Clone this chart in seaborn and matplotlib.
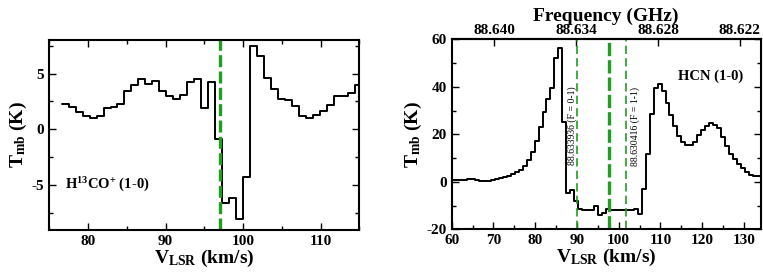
import numpy as np
import pandas as pd
import matplotlib
matplotlib.use("Agg")
import matplotlib.pyplot as plt
import seaborn as sns
from matplotlib.ticker import MultipleLocator, FixedLocator, FormatStrFormatter

# ---------------- data ----------------
# H13CO+ (1-0): channel left edges (km/s, last = right edge of last channel) and Tmb (K)
h13_edges = [76.6, 77.5, 78.4, 79.3, 80.2, 81.1, 82.0, 82.9, 83.8, 84.7,
             85.6, 86.5, 87.4, 88.3, 89.2, 90.1, 91.0, 91.9, 92.8, 93.7,
             94.6, 95.5, 96.4, 97.3, 98.2, 99.1, 100.0, 100.9, 101.8, 102.7,
             103.6, 104.5, 105.4, 106.3, 107.2, 108.1, 109.0, 109.9, 110.8, 111.7,
             112.6, 113.5, 114.4, 115.3]
h13_tmb = [2.3, 2.0, 1.6, 1.2, 1.05, 1.2, 1.9, 2.0, 2.3, 3.4,
           4.0, 4.5, 4.1, 4.3, 3.4, 3.0, 2.7, 3.1, 4.2, 4.5,
           1.9, 4.2, -0.9, -6.6, -6.1, -8.0, -4.3, 7.5, 6.6, 4.6,
           3.65, 2.7, 2.6, 2.06, 1.2, 1.05, 1.3, 1.65, 2.15, 2.95,
           3.0, 3.27, 4.0]

# HCN (1-0): channel left edges (km/s, last = right edge of last channel) and Tmb (K)
hcn_edges = [59.9, 60.85, 61.8, 62.75, 63.7, 64.65, 65.6, 66.55, 67.5, 68.45,
             69.4, 70.35, 71.3, 72.25, 73.2, 74.15, 75.1, 76.05, 77.0, 77.95,
             78.9, 79.85, 80.8, 81.75, 82.7, 83.65, 84.6, 85.55, 86.5, 87.45,
             88.4, 89.35, 90.3, 91.25, 92.2, 93.15, 94.1, 95.05, 96.0, 96.95,
             97.9, 98.85, 99.8, 100.75, 101.7, 102.65, 103.6, 104.55, 105.5, 106.45,
             107.4, 108.35, 109.3, 110.25, 111.2, 112.15, 113.1, 114.05, 115.0, 115.95,
             116.9, 117.85, 118.8, 119.75, 120.7, 121.65, 122.6, 123.55, 124.5, 125.45,
             126.4, 127.35, 128.3, 129.25, 130.2, 131.15, 132.1, 133.05, 134.0]
hcn_tmb = [0.8, 0.6, 0.6, 0.7, 1.0, 1.1, 0.8, 0.5, 0.4, 0.4,
           0.7, 1.2, 1.6, 1.9, 2.5, 3.4, 4.0, 5.0, 6.6, 9.0,
           12.7, 17.0, 23.0, 29.5, 35.0, 39.4, 52.0, 56.2, 25.0, -4.6,
           -3.4, -8.0, -11.6, -12.0, -11.9, -11.7, -10.2, -14.0, -13.0, -11.6,
           -12.0, -12.0, -11.9, -12.0, -11.9, -11.8, -11.6, -13.7, -3.2, 11.7,
           28.5, 39.5, 41.1, 38.2, 33.2, 28.1, 23.6, 19.5, 16.7, 15.3,
           15.3, 16.9, 19.8, 21.9, 23.3, 24.9, 23.9, 22.5, 19.0, 15.2,
           11.6, 9.5, 7.6, 5.7, 4.0, 3.0, 2.6, 2.5]

h13_vsys = 97.0
hcn_lines = [90.0, 101.8]
hcn_line_labels = ["88.633936 (F = 0-1)", "88.630416 (F = 1-1)"]
hcn_vsys = 97.6
freq_ticks = [88.640, 88.634, 88.628, 88.622]
F_REF, V_REF, KMS_PER_GHZ = 88.634, 89.8, 19.6 / 0.006

# ---------------- style ----------------
sns.set_style("ticks")
plt.rcParams["font.family"] = ["Liberation Serif", "DejaVu Serif"]
plt.rcParams["font.weight"] = "bold"
plt.rcParams["axes.labelweight"] = "bold"
plt.rcParams["axes.unicode_minus"] = False
for key in ("text.color", "axes.labelcolor", "xtick.color", "ytick.color", "axes.edgecolor"):
    plt.rcParams[key] = "black"
plt.rcParams["mathtext.fontset"] = "custom"
plt.rcParams["mathtext.rm"] = "Liberation Serif:bold"
plt.rcParams["mathtext.bf"] = "Liberation Serif:bold"
plt.rcParams["mathtext.it"] = "Liberation Serif:bold"

fig = plt.figure(figsize=(7.63, 2.73), dpi=100)
ax1 = fig.add_axes([0.0646, 0.1575, 0.4063, 0.696])
ax2 = fig.add_axes([0.592, 0.160, 0.405, 0.696])

green = "#1f9e1f"


def step_df(edges, vals):
    return pd.DataFrame({"v": edges, "t": list(vals) + [vals[-1]]})


sns.lineplot(data=step_df(h13_edges, h13_tmb), x="v", y="t", ax=ax1,
             drawstyle="steps-post", color="black", lw=1.4,
             estimator=None, sort=False)
sns.lineplot(data=step_df(hcn_edges, hcn_tmb), x="v", y="t", ax=ax2,
             drawstyle="steps-post", color="black", lw=1.4,
             estimator=None, sort=False)

ax1.axvline(h13_vsys, color=green, lw=2.4, dashes=(3.6, 1.3))
for v in hcn_lines:
    ax2.axvline(v, color=green, lw=1.2, dashes=(5, 2.5))
ax2.axvline(hcn_vsys, color=green, lw=2.4, dashes=(4, 1.2))

ax2.text(88.8, 23.5, hcn_line_labels[0], rotation=90, ha="center", va="center",
         fontsize=7, fontweight="normal")
ax2.text(104.0, 23.5, hcn_line_labels[1], rotation=90, ha="center", va="center",
         fontsize=7, fontweight="normal")

ax1.text(77.0, -5.0, r"H$^{13}$CO$^{+}$ (1-0)", fontsize=10.5, va="center", ha="left")
ax2.text(114.2, 44.5, "HCN (1-0)", fontsize=10.5, va="center", ha="left")

ax1.set_xlim(75, 115)
ax1.set_ylim(-9, 8)
ax2.set_xlim(60, 134)
ax2.set_ylim(-20, 60)

ax1.xaxis.set_major_locator(MultipleLocator(10))
ax1.xaxis.set_minor_locator(MultipleLocator(5))
ax1.yaxis.set_major_locator(MultipleLocator(5))
ax1.yaxis.set_minor_locator(MultipleLocator(2.5))
ax2.xaxis.set_major_locator(MultipleLocator(10))
ax2.xaxis.set_minor_locator(MultipleLocator(5))
ax2.yaxis.set_major_locator(MultipleLocator(20))
ax2.yaxis.set_minor_locator(MultipleLocator(10))

for ax in (ax1, ax2):
    for s in ax.spines.values():
        s.set_linewidth(1.5)
        s.set_visible(True)
    ax.tick_params(which="both", direction="in", width=1.0, labelsize=11,
                   right=True, top=(ax is ax1))
    ax.tick_params(which="major", length=5)
    ax.tick_params(which="minor", length=3)
    for lab in ax.get_xticklabels() + ax.get_yticklabels():
        lab.set_fontweight("bold")
    ax.set_xlabel(r"V$_{\rm LSR}$ (km/s)", fontsize=14, labelpad=0)
    ax.set_ylabel(r"T$_{\rm mb}$ (K)", fontsize=14, labelpad=2)


def v2f(v):
    return F_REF - (np.asarray(v) - V_REF) / KMS_PER_GHZ


def f2v(f):
    return V_REF + (F_REF - np.asarray(f)) * KMS_PER_GHZ


sec = ax2.secondary_xaxis("top", functions=(v2f, f2v))
sec.xaxis.set_major_locator(FixedLocator(freq_ticks))
sec.xaxis.set_major_formatter(FormatStrFormatter("%.3f"))
sec.tick_params(direction="in", length=5, width=1.0, labelsize=11, pad=2)
for lab in sec.get_xticklabels():
    lab.set_fontweight("bold")
sec.spines["top"].set_linewidth(1.5)
sec.set_xlabel("Frequency (GHz)", fontsize=14, fontweight="bold", labelpad=2)

fig.savefig("out.png", dpi=100)
